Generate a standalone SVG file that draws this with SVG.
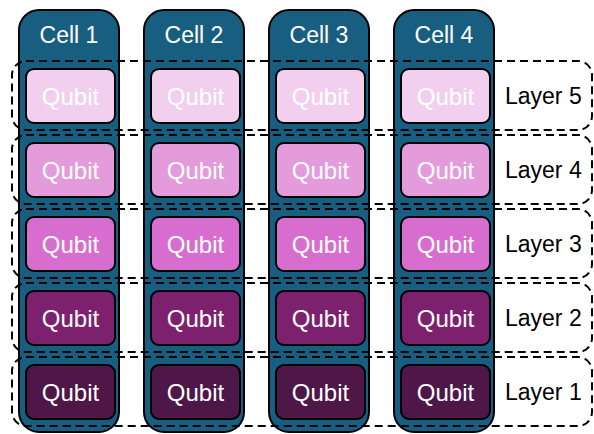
<svg xmlns="http://www.w3.org/2000/svg" width="594" height="434" viewBox="0 0 594 434">
<style>
.cell{fill:#185e80;stroke:#000;stroke-width:2}
.layer{fill:none;stroke:#000;stroke-width:2;stroke-dasharray:8 5}
.q{stroke:#000;stroke-width:2}
.ct{font-family:"Liberation Sans",Arial,sans-serif;font-size:23px;fill:#fff;text-anchor:middle}
.qt{font-family:"Liberation Sans",Arial,sans-serif;font-size:24px;fill:#fff;text-anchor:middle}
.lt{font-family:"Liberation Sans",Arial,sans-serif;font-size:23px;fill:#000}
.l5{fill:#f2cfee}.l4{fill:#e49bdb}.l3{fill:#d76ecf}.l2{fill:#7d206e}.l1{fill:#4e1747}
</style>
<g id="cell1"><rect class="cell" x="19" y="10" width="100" height="422" rx="20"/><text class="ct" x="69" y="43">Cell 1</text></g>
<g id="cell2"><rect class="cell" x="144" y="10" width="100" height="422" rx="20"/><text class="ct" x="194" y="43">Cell 2</text></g>
<g id="cell3"><rect class="cell" x="269" y="10" width="100" height="422" rx="20"/><text class="ct" x="319" y="43">Cell 3</text></g>
<g id="cell4"><rect class="cell" x="394" y="10" width="100" height="422" rx="20"/><text class="ct" x="444" y="43">Cell 4</text></g>
<g id="layers">
<g id="layer5"><rect class="layer" x="12" y="61" width="580" height="69" rx="14"/><text class="lt" x="505" y="104">Layer 5</text></g>
<g id="layer4"><rect class="layer" x="12" y="135" width="580" height="69" rx="14"/><text class="lt" x="505" y="178">Layer 4</text></g>
<g id="layer3"><rect class="layer" x="12" y="209" width="580" height="69" rx="14"/><text class="lt" x="505" y="252">Layer 3</text></g>
<g id="layer2"><rect class="layer" x="12" y="283" width="580" height="69" rx="14"/><text class="lt" x="505" y="326">Layer 2</text></g>
<g id="layer1"><rect class="layer" x="12" y="357" width="580" height="69" rx="14"/><text class="lt" x="505" y="400">Layer 1</text></g>
</g>
<g id="qubits">
<g id="q-c1-l5"><rect class="q l5" x="26" y="69" width="89" height="54" rx="8"/><text class="qt" x="70.5" y="104.5">Qubit</text></g>
<g id="q-c2-l5"><rect class="q l5" x="151" y="69" width="89" height="54" rx="8"/><text class="qt" x="195.5" y="104.5">Qubit</text></g>
<g id="q-c3-l5"><rect class="q l5" x="276" y="69" width="89" height="54" rx="8"/><text class="qt" x="320.5" y="104.5">Qubit</text></g>
<g id="q-c4-l5"><rect class="q l5" x="401" y="69" width="89" height="54" rx="8"/><text class="qt" x="445.5" y="104.5">Qubit</text></g>
<g id="q-c1-l4"><rect class="q l4" x="26" y="143" width="89" height="54" rx="8"/><text class="qt" x="70.5" y="178.5">Qubit</text></g>
<g id="q-c2-l4"><rect class="q l4" x="151" y="143" width="89" height="54" rx="8"/><text class="qt" x="195.5" y="178.5">Qubit</text></g>
<g id="q-c3-l4"><rect class="q l4" x="276" y="143" width="89" height="54" rx="8"/><text class="qt" x="320.5" y="178.5">Qubit</text></g>
<g id="q-c4-l4"><rect class="q l4" x="401" y="143" width="89" height="54" rx="8"/><text class="qt" x="445.5" y="178.5">Qubit</text></g>
<g id="q-c1-l3"><rect class="q l3" x="26" y="217" width="89" height="54" rx="8"/><text class="qt" x="70.5" y="252.5">Qubit</text></g>
<g id="q-c2-l3"><rect class="q l3" x="151" y="217" width="89" height="54" rx="8"/><text class="qt" x="195.5" y="252.5">Qubit</text></g>
<g id="q-c3-l3"><rect class="q l3" x="276" y="217" width="89" height="54" rx="8"/><text class="qt" x="320.5" y="252.5">Qubit</text></g>
<g id="q-c4-l3"><rect class="q l3" x="401" y="217" width="89" height="54" rx="8"/><text class="qt" x="445.5" y="252.5">Qubit</text></g>
<g id="q-c1-l2"><rect class="q l2" x="26" y="291" width="89" height="54" rx="8"/><text class="qt" x="70.5" y="326.5">Qubit</text></g>
<g id="q-c2-l2"><rect class="q l2" x="151" y="291" width="89" height="54" rx="8"/><text class="qt" x="195.5" y="326.5">Qubit</text></g>
<g id="q-c3-l2"><rect class="q l2" x="276" y="291" width="89" height="54" rx="8"/><text class="qt" x="320.5" y="326.5">Qubit</text></g>
<g id="q-c4-l2"><rect class="q l2" x="401" y="291" width="89" height="54" rx="8"/><text class="qt" x="445.5" y="326.5">Qubit</text></g>
<g id="q-c1-l1"><rect class="q l1" x="26" y="365" width="89" height="54" rx="8"/><text class="qt" x="70.5" y="400.5">Qubit</text></g>
<g id="q-c2-l1"><rect class="q l1" x="151" y="365" width="89" height="54" rx="8"/><text class="qt" x="195.5" y="400.5">Qubit</text></g>
<g id="q-c3-l1"><rect class="q l1" x="276" y="365" width="89" height="54" rx="8"/><text class="qt" x="320.5" y="400.5">Qubit</text></g>
<g id="q-c4-l1"><rect class="q l1" x="401" y="365" width="89" height="54" rx="8"/><text class="qt" x="445.5" y="400.5">Qubit</text></g>
</g>
</svg>
